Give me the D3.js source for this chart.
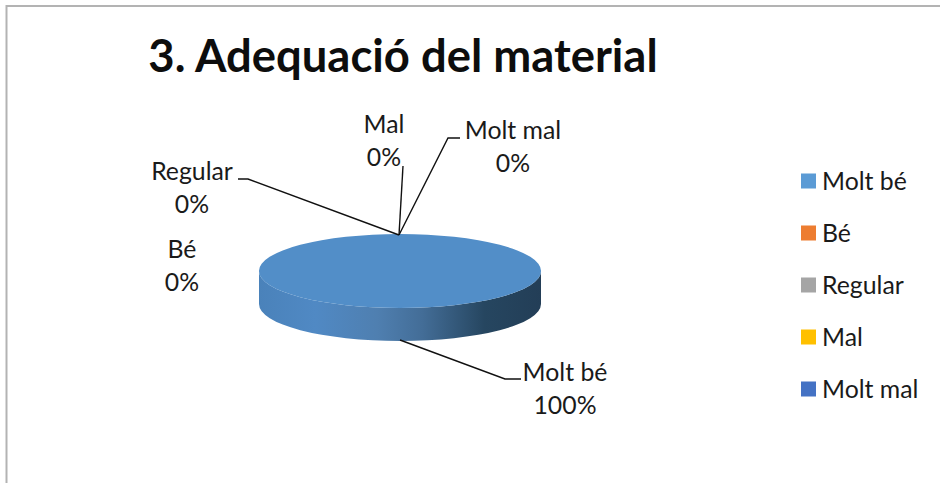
<!DOCTYPE html>
<html>
<head>
<meta charset="utf-8">
<script src="https://cdn.jsdelivr.net/npm/d3@7"></script>
<style>
  html, body { margin: 0; padding: 0; background: #fff; }
  text { font-family: Lato, "Open Sans", sans-serif; fill: #1a1a1a; }
</style>
</head>
<body>
<div id="chart"></div>
<script>
const categories = ["Molt bé", "Bé", "Regular", "Mal", "Molt mal"];
const values = [100, 0, 0, 0, 0];
const percentLabels = ["100%", "0%", "0%", "0%", "0%"];
const colors = ["#5b9bd5", "#ed7d31", "#a5a5a5", "#ffc000", "#4472c4"];

const width = 940, height = 483;
const cx = 400, cy = 271, rx = 141, ry = 37, depth = 33;

// where each data label sits, same order as categories
const labelPos = [[565, 373], [182, 250], [192, 172], [384, 125], [513, 131]];
const leaders = [
  [[400, 340], [505, 379], [521, 379]],
  null,
  [[399, 235], [248, 179], [238, 179]],
  [[399, 235], [403, 166]],
  [[399, 235], [448, 138], [460, 138]]
];

const svg = d3.select("#chart").append("svg")
  .attr("width", width)
  .attr("height", height)
  .style("display", "block");

// frame, only left and top show in the picture
svg.append("path")
  .attr("d", `M6.5,${height} V6 H${width}`)
  .attr("fill", "none")
  .attr("stroke", "#b3b3b3")
  .attr("stroke-width", 2);

svg.append("text")
  .attr("x", 403)
  .attr("y", 72)
  .attr("text-anchor", "middle")
  .style("font-size", "45.4px")
  .style("font-weight", "bold")
  .style("fill", "#0d0d0d")
  .text("3. Adequació del material");

const defs = svg.append("defs");
const grad = defs.append("linearGradient")
  .attr("id", "side")
  .attr("x1", 0).attr("x2", 1).attr("y1", 0).attr("y2", 0);
[[0, "#4a82ba"], [0.2, "#5089c4"], [0.42, "#4f7fb0"], [0.58, "#436d97"], [0.8, "#264660"], [1, "#233e57"]]
  .forEach(s => grad.append("stop").attr("offset", s[0]).attr("stop-color", s[1]));

const pie = d3.pie().sort(null).value(d => d).startAngle(0).endAngle(2 * Math.PI);
const arcs = pie(values);
const arc = d3.arc().innerRadius(0).outerRadius(rx);

// side wall of the disc
svg.append("path")
  .attr("d", `M${cx - rx},${cy} V${cy + depth} A${rx},${ry} 0 0 0 ${cx + rx},${cy + depth} V${cy} A${rx},${ry} 0 0 1 ${cx - rx},${cy} Z`)
  .attr("fill", "url(#side)");

// top of the disc
svg.append("g")
  .attr("transform", `translate(${cx},${cy}) scale(1,${ry / rx})`)
  .selectAll("path")
  .data(arcs)
  .join("path")
  .attr("d", arc)
  .attr("fill", "#528ec8");

const line = d3.line();
svg.selectAll(".leader")
  .data(leaders.filter(d => d))
  .join("path")
  .attr("class", "leader")
  .attr("d", line)
  .attr("fill", "none")
  .attr("stroke", "#111")
  .attr("stroke-width", 1.4);

const labels = svg.selectAll(".label")
  .data(categories)
  .join("text")
  .attr("class", "label")
  .attr("text-anchor", "middle")
  .style("font-size", "24.8px");
labels.append("tspan")
  .attr("x", (d, i) => labelPos[i][0])
  .attr("y", (d, i) => labelPos[i][1] + 8)
  .text(d => d);
labels.append("tspan")
  .attr("x", (d, i) => labelPos[i][0])
  .attr("y", (d, i) => labelPos[i][1] + 41)
  .text((d, i) => percentLabels[i]);

const legendY = d3.scalePoint().domain(categories).range([181, 389]);
const legend = svg.selectAll(".legend")
  .data(categories)
  .join("g")
  .attr("class", "legend")
  .attr("transform", d => `translate(801,${legendY(d)})`);
legend.append("rect")
  .attr("y", -7.5)
  .attr("width", 15)
  .attr("height", 15)
  .attr("fill", (d, i) => colors[i]);
legend.append("text")
  .attr("x", 21)
  .attr("y", 9)
  .style("font-size", "24.8px")
  .text(d => d);
</script>
</body>
</html>
